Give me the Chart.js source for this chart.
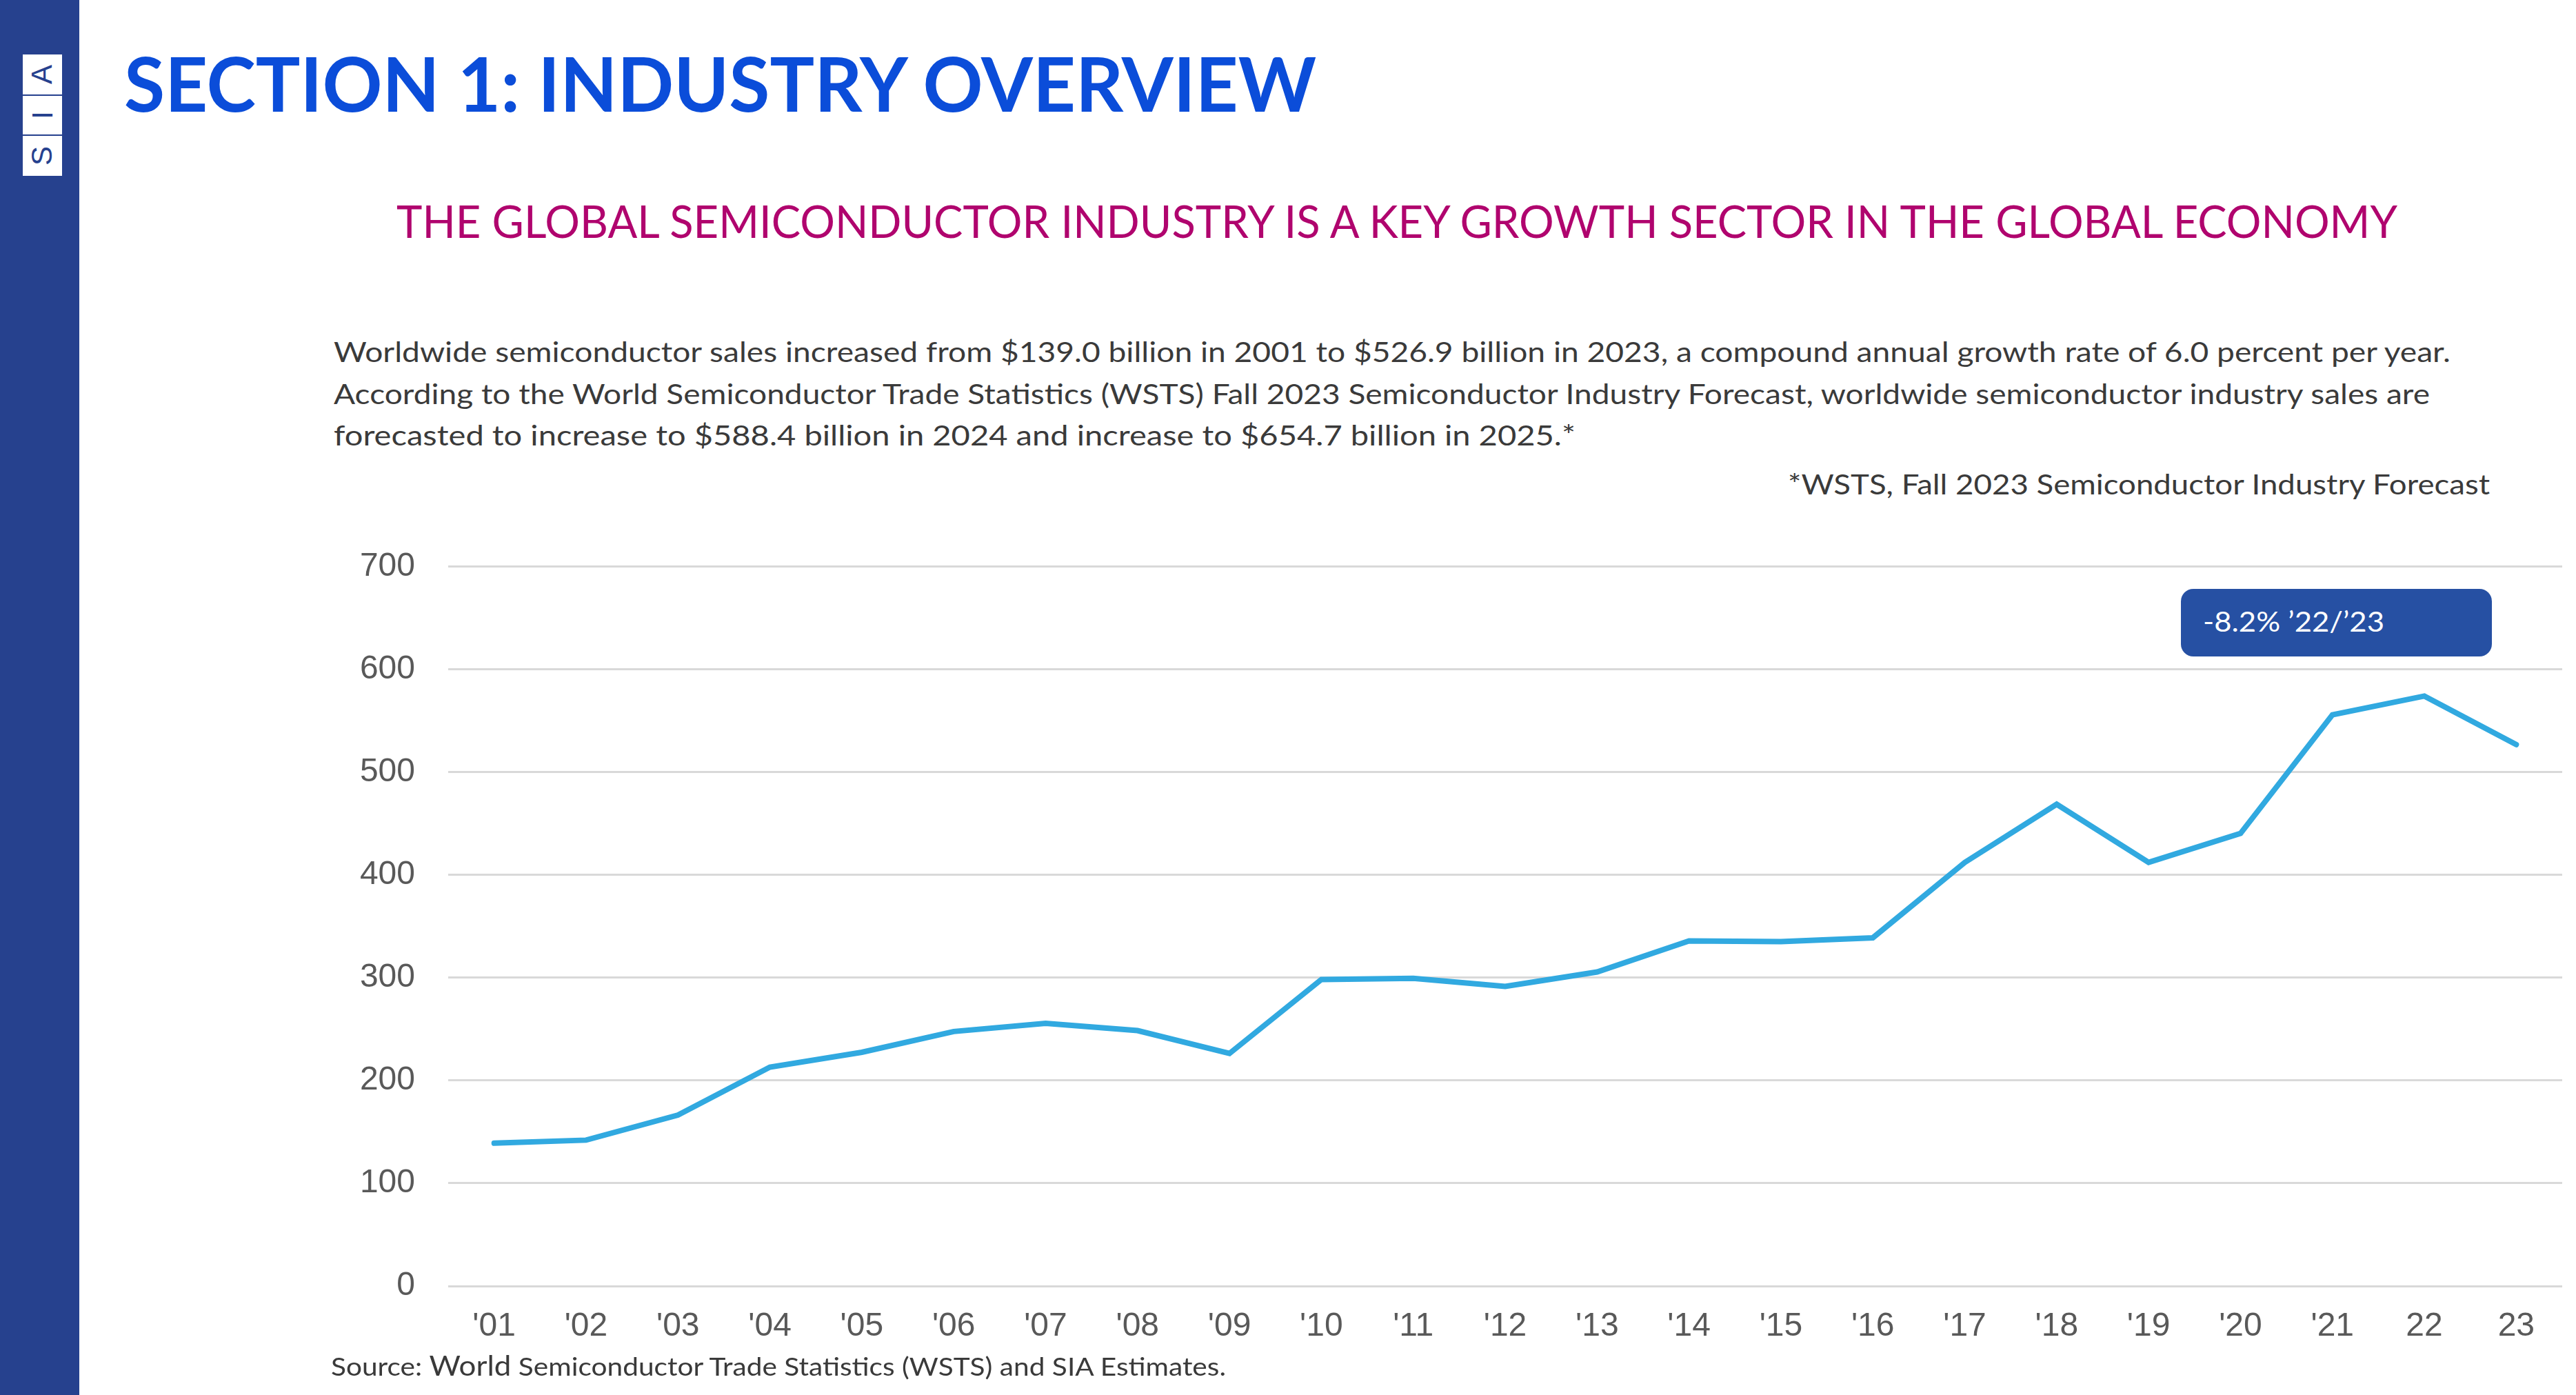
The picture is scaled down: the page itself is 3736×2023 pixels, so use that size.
<!DOCTYPE html>
<html>
<head>
<meta charset="utf-8">
<script src="https://cdn.jsdelivr.net/npm/chart.js@4/dist/chart.umd.min.js"></script>
<style>
  html, body { margin: 0; padding: 0; background: #fff; }
  body { width: 3736px; height: 2023px; position: relative; overflow: hidden; font-family: Lato, "Open Sans", sans-serif; }
  .abs { position: absolute; white-space: nowrap; line-height: 1; transform-origin: 0 0; }
  #sidebar { position: absolute; left: 0; top: 0; width: 115px; height: 2023px; background: #26418E; }
  .logo { position: absolute; left: 33px; width: 57px; background: #fff; color: #26418E;
          font-family: "Liberation Sans", Arial, sans-serif; font-size: 42px; text-align: center; }
  .logo span { display: inline-block; transform: rotate(-90deg); }
  #chartBox { position: absolute; left: 480px; top: 782px; }
  #badge { position: absolute; left: 3163px; top: 854px; width: 451px; height: 98px; background: #2650A3;
           border-radius: 18px; }
</style>
</head>
<body>
<div id="sidebar"></div>
<div class="logo" style="top:79px;height:58px;line-height:58px"><span>A</span></div>
<div class="logo" style="top:139px;height:56px;line-height:56px"><span>I</span></div>
<div class="logo" style="top:197px;height:58px;line-height:58px"><span>S</span></div>

<div class="abs" data-w="1729" style="left:180px;top:64px;font-size:110px;font-weight:700;color:#0B4DD9">SECTION 1: INDUSTRY OVERVIEW</div>
<div class="abs" data-w="2902" style="left:575px;top:287px;font-size:66px;color:#B0046E">THE GLOBAL SEMICONDUCTOR INDUSTRY IS A KEY GROWTH SECTOR IN THE GLOBAL ECONOMY</div>

<div class="abs" data-w="3070" style="left:484px;top:489px;font-size:41px;color:#3A3A3A">Worldwide semiconductor sales increased from $139.0 billion in 2001 to $526.9 billion in 2023, a compound annual growth rate of 6.0 percent per year.</div>
<div class="abs" data-w="3040" style="left:484px;top:550px;font-size:41px;color:#3A3A3A">According to the World Semiconductor Trade Statistics (WSTS) Fall 2023 Semiconductor Industry Forecast, worldwide semiconductor industry sales are</div>
<div class="abs" data-w="1801" style="left:484px;top:610px;font-size:41px;color:#3A3A3A">forecasted to increase to $588.4 billion in 2024 and increase to $654.7 billion in 2025.*</div>
<div class="abs" data-w="1018" style="left:2593px;top:681px;font-size:41px;color:#3A3A3A">*WSTS, Fall 2023 Semiconductor Industry Forecast</div>

<div id="chartBox"><canvas id="salesChart" width="3256" height="1178" style="width:3256px;height:1178px"></canvas></div>

<div id="badge"></div>
<div class="abs" data-w="263" style="left:3195px;top:881px;font-size:40px;color:#fff">-8.2% ’22/’23</div>

<div class="abs" data-w="1298" style="left:480px;top:1960px;font-size:37px;color:#3A3A3A">Source: <span style="font-size:40px">World</span> Semiconductor Trade Statistics (WSTS) and SIA Estimates.</div>

<script>
// Datos del gráfico (ventas mundiales, miles de millones USD)
const years = ["'01", "'02", "'03", "'04", "'05", "'06", "'07", "'08", "'09", "'10", "'11", "'12",
               "'13", "'14", "'15", "'16", "'17", "'18", "'19", "'20", "'21", "22", "23"];
const sales = [139.0, 142.0, 166.4, 213.0, 227.5, 247.7, 255.6, 248.6, 226.3, 298.3, 299.5, 291.6,
               305.6, 335.8, 335.2, 338.9, 412.2, 468.8, 412.3, 440.4, 555.9, 574.1, 526.9];
const yMin = 0;
const yMax = 700;
const yStep = 100;

// Zona del gráfico en la página
const areaTop = 822;
const areaHeight = 1043;
const xAxisHeight = 95;

function ajustarTextos() {
    document.querySelectorAll('[data-w]').forEach(function(el) {
        const natural = el.getBoundingClientRect().width;
        const target = parseFloat(el.dataset.w);
        if (natural > 0) {
            el.style.transform = 'scaleX(' + (target / natural) + ')';
        }
    });
}

function crearChartVentas() {
    const ctx = document.getElementById('salesChart').getContext('2d');
    const tickFont = { family: "'Liberation Sans', Arial, sans-serif", size: 48 };

    const chart = new Chart(ctx, {
        type: 'line',
        data: {
            labels: years,
            datasets: [{
                data: sales,
                borderColor: '#31A9E0',
                borderWidth: 8,
                borderCapStyle: 'round',
                borderJoinStyle: 'miter',
                pointRadius: 0,
                tension: 0,
                fill: false
            }]
        },
        options: {
            responsive: false,
            maintainAspectRatio: false,
            animation: false,
            devicePixelRatio: 1,
            layout: { padding: { top: 0, right: 20, left: 0, bottom: 0 } },
            plugins: {
                legend: { display: false },
                tooltip: { enabled: false }
            },
            scales: {
                x: {
                    offset: true,
                    grid: { display: false, drawTicks: false },
                    border: { display: false },
                    ticks: { font: tickFont, color: '#595959', padding: 30, maxRotation: 0, autoSkip: false },
                    afterFit: function(scale) { scale.height = xAxisHeight; }
                },
                y: {
                    min: yMin,
                    max: yMax,
                    grid: { color: '#D9D9D9', lineWidth: 3, drawTicks: false },
                    border: { display: false },
                    ticks: { stepSize: yStep, font: tickFont, color: '#595959', padding: 48 },
                    afterFit: function(scale) { scale.width = 170; }
                }
            }
        }
    });

    // Colocar el área del gráfico donde está en la imagen original
    for (let i = 0; i < 3; i++) {
        const h = chart.chartArea.bottom - chart.chartArea.top;
        if (Math.abs(h - areaHeight) < 1) break;
        chart.resize(3256, Math.round(chart.height + areaHeight - h));
    }
    document.getElementById('chartBox').style.top = Math.round(areaTop - chart.chartArea.top) + 'px';
}

document.fonts.ready.then(function() {
    ajustarTextos();
    crearChartVentas();
});
</script>
</body>
</html>
